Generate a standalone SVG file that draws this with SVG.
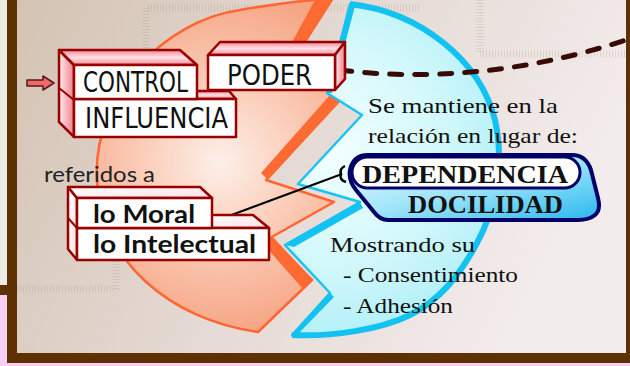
<svg xmlns="http://www.w3.org/2000/svg" width="630" height="366" viewBox="0 0 630 366">
<defs>
<linearGradient id="bg" x1="0" y1="0" x2="1" y2="0.3">
<stop offset="0" stop-color="#d4c3b3"/>
<stop offset="0.45" stop-color="#e2d6cf"/>
<stop offset="1" stop-color="#f3ecec"/>
</linearGradient>
<radialGradient id="orFill" cx="220" cy="162" r="175" gradientUnits="userSpaceOnUse">
<stop offset="0" stop-color="#fdefe9"/>
<stop offset="0.45" stop-color="#fbcdb8"/>
<stop offset="1" stop-color="#f6a484"/>
</radialGradient>
<radialGradient id="cyFill" cx="330" cy="150" r="190" gradientUnits="userSpaceOnUse">
<stop offset="0" stop-color="#f4ffff"/>
<stop offset="0.6" stop-color="#d2f8fb"/>
<stop offset="1" stop-color="#b2f0f8"/>
</radialGradient>
<linearGradient id="pinkTop" x1="0" y1="0" x2="0" y2="1">
<stop offset="0" stop-color="#f38a96"/>
<stop offset="0.5" stop-color="#ffdfe4"/>
<stop offset="1" stop-color="#f28c98"/>
</linearGradient>
<linearGradient id="pinkSide" x1="0" y1="0" x2="1" y2="0">
<stop offset="0" stop-color="#ffeef0"/>
<stop offset="1" stop-color="#ef7f8c"/>
</linearGradient>
<linearGradient id="lightSide" x1="0" y1="0" x2="1" y2="1">
<stop offset="0" stop-color="#ffffff"/>
<stop offset="1" stop-color="#fbe0e3"/>
</linearGradient>
<linearGradient id="pill" x1="0" y1="0" x2="1" y2="1">
<stop offset="0" stop-color="#ecfcff"/>
<stop offset="0.5" stop-color="#9fe4fa"/>
<stop offset="1" stop-color="#28b8ee"/>
</linearGradient>
<style>
.box{stroke:#990000;stroke-width:2.5;stroke-linejoin:round}
.face{fill:#ffffff}
.hand{font-family:"DejaVu Sans Condensed","DejaVu Sans",sans-serif;font-size:29px;fill:#111}
.gill{font-family:Lato,"Liberation Sans",sans-serif;font-weight:bold;font-size:24px;fill:#111}
.serif{font-family:"Liberation Serif",serif;font-size:22px;fill:#111}
.caps{font-family:"Liberation Serif",serif;font-weight:bold;font-size:26px;fill:#111}
.sans{font-family:Lato,"Liberation Sans",sans-serif;font-size:21px;fill:#222}
.frame{fill:none;stroke:#a89480;stroke-opacity:0.25;stroke-width:7;stroke-dasharray:1 2}
</style>
</defs>

<!-- outer page -->
<rect x="0" y="0" width="630" height="366" fill="#f8d0f6"/>
<rect x="0" y="0" width="8" height="286" fill="#eeeae6"/>
<rect x="0" y="285" width="8" height="10" fill="#5e3100"/>
<!-- inner background -->
<rect x="17" y="0" width="609" height="353" fill="url(#bg)"/>
<path class="frame" d="M146,60 V8 H420"/>
<path class="frame" d="M17,289 H116 V255"/>
<path class="frame" d="M480,0 V54 H626"/>
<!-- brown borders -->
<rect x="7" y="0" width="10" height="363" fill="#5e3100"/>
<rect x="7" y="353" width="623" height="10" fill="#5e3100"/>
<rect x="626" y="0" width="4" height="363" fill="#5e3100"/>

<!-- orange sector -->
<g id="orange-sector">
<path d="M258,332 C170,320 100,260 97,180 C92,95 165,20 240,10 Q285,2 333,-2 L301,48 L342,98 L266,180 L334,202 L270,238 L312,280 Z" fill="url(#orFill)" stroke="#ff6633" stroke-width="2.5" stroke-linejoin="round"/>
<polygon points="316,-2 333,-2 301,48 290,46" fill="#ff6a33"/>
<polygon points="330,95 343,98 268,180 261,173" fill="#ff6a33"/>
<polygon points="272,236 313,280 303,289 265,246" fill="#ff6a33"/>
</g>

<!-- cyan sector -->
<g id="cyan-sector">
<path d="M350,4 C420,12 480,60 495,120 C505,165 495,210 477,243 C460,275 440,300 410,315 C380,330 330,337 292,335 L330,293 L285,245 L360,202 L298,184 L362,115 L327,93 Z" fill="url(#cyFill)" stroke="#18c4f0" stroke-width="2.5" stroke-linejoin="round"/>
<path d="M350,4 C420,12 480,60 495,120 C505,165 495,210 477,243 C460,275 440,300 410,315 C380,330 330,337 292,335" fill="none" stroke="#12c2f0" stroke-width="6"/>
<polygon points="360,202 285,245 294,247 363,208" fill="#12c2f0"/>
<polygon points="330,293 292,335 299,333 334,297" fill="#12c2f0"/>
<polygon points="350,4 327,93 332,93 355,6" fill="#12c2f0"/>
</g>

<!-- connectors -->
<g id="connectors">
<path d="M340,70 C420,80 520,75 626,40" fill="none" stroke="#3a0a08" stroke-width="5" stroke-linecap="round" stroke-dasharray="12 13"/>
<line x1="218" y1="220" x2="342" y2="174" stroke="#000" stroke-width="2"/>
<path d="M345,166 Q339,169 341,174 Q339,180 346,182" fill="none" stroke="#000" stroke-width="2.5"/>
</g>

<!-- arrow -->
<g id="arrow">
<polygon points="27,80 43,80 43,76 54,83 43,90 43,86 27,86" fill="#f06868" stroke="#5a1a1a" stroke-width="1.5" stroke-linejoin="round"/>
</g>

<!-- CONTROL / INFLUENCIA stack -->
<g id="control-influencia">
<polygon class="box" points="59,50 74,65 74,137 59,122" fill="url(#pinkSide)"/>
<line x1="59" y1="88" x2="74" y2="100" stroke="#990000" stroke-width="2"/>
<polygon class="box" points="185,91 229,91 236,99 197,99" fill="url(#pinkTop)"/>
<rect class="box face" x="74" y="99" width="162" height="38"/>
<polygon class="box" points="59,50 180,50 197,65 74,65" fill="url(#pinkTop)"/>
<rect class="box face" x="74" y="65" width="123" height="34"/>
<text class="hand" x="83" y="92" textLength="105" lengthAdjust="spacingAndGlyphs">CONTROL</text>
<text class="hand" x="85" y="128" textLength="143" lengthAdjust="spacingAndGlyphs">INFLUENCIA</text>
</g>

<!-- PODER -->
<g id="poder">
<polygon class="box" points="208,55 220,42 345,42 335,55" fill="url(#pinkTop)"/>
<polygon class="box" points="335,55 345,42 345,79 335,90" fill="url(#pinkSide)"/>
<rect class="box face" x="208" y="55" width="127" height="35"/>
<text class="hand" x="227" y="85" textLength="85" lengthAdjust="spacingAndGlyphs">PODER</text>
</g>

<!-- lo Moral / lo Intelectual stack -->
<g id="moral-intelectual">
<polygon class="box" points="68,187 77,198 77,260 68,249" fill="url(#lightSide)"/>
<line x1="68" y1="218" x2="77" y2="228" stroke="#990000" stroke-width="2"/>
<polygon class="box" points="205,215 253,215 269,228 212,228" fill="url(#lightSide)"/>
<rect class="box face" x="77" y="228" width="192" height="32"/>
<polygon class="box" points="68,187 200,187 212,198 77,198" fill="url(#lightSide)"/>
<rect class="box face" x="77" y="198" width="135" height="30"/>
<text class="gill" x="93" y="223" textLength="102" lengthAdjust="spacingAndGlyphs">lo Moral</text>
<text class="gill" x="93" y="253" textLength="163" lengthAdjust="spacingAndGlyphs">lo Intelectual</text>
</g>

<!-- referidos a -->
<g id="referidos">
<text class="sans" x="44" y="182" textLength="111" lengthAdjust="spacingAndGlyphs">referidos a</text>
</g>

<!-- Se mantiene -->
<g id="se-mantiene">
<text class="serif" x="368" y="113" textLength="190" lengthAdjust="spacingAndGlyphs">Se mantiene en la</text>
<text class="serif" x="368" y="143" textLength="210" lengthAdjust="spacingAndGlyphs">relación en lugar de:</text>
</g>

<!-- DEPENDENCIA / DOCILIDAD -->
<g id="dependencia-docilidad">
<path d="M368,155 L572,155 Q586,155 591,170 L598,198 Q601,210 595,215 Q589,220 578,220 L388,220 Q380,220 374,212 L356,190 Q348,180 350,170 Q353,155 368,155 Z" fill="url(#pill)" stroke="#000066" stroke-width="4" stroke-linejoin="round"/>
<rect x="352" y="157" width="228" height="31" rx="15.5" fill="#ffffff" stroke="#000066" stroke-width="3"/>
<text class="caps" x="362" y="183" textLength="206" lengthAdjust="spacingAndGlyphs">DEPENDENCIA</text>
<text class="caps" x="408" y="213" textLength="155" lengthAdjust="spacingAndGlyphs">DOCILIDAD</text>
</g>

<!-- Mostrando su -->
<g id="mostrando">
<text class="serif" x="330" y="252" textLength="145" lengthAdjust="spacingAndGlyphs">Mostrando su</text>
<text class="serif" x="343" y="282" textLength="175" lengthAdjust="spacingAndGlyphs">- Consentimiento</text>
<text class="serif" x="343" y="313" textLength="110" lengthAdjust="spacingAndGlyphs">- Adhesión</text>
</g>
</svg>
